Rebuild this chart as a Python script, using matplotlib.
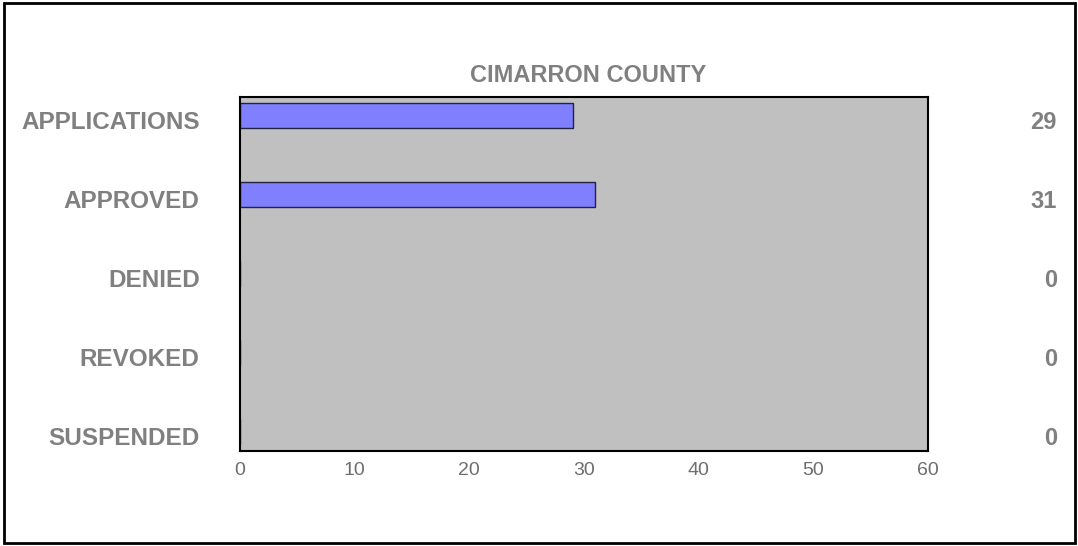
import matplotlib
matplotlib.use("Agg")
import matplotlib.pyplot as plt
import matplotlib.patches as patches
import matplotlib.transforms as transforms

# data
categories = ["APPLICATIONS", "APPROVED", "DENIED", "REVOKED", "SUSPENDED"]
counts = [29, 31, 0, 0, 0]
x_ticks = [0, 10, 20, 30, 40, 50, 60]
title = "CIMARRON COUNTY"

plt.rcParams['font.family'] = ['Liberation Sans', 'DejaVu Sans']
label_grey = '#808080'
tick_grey = '#6e6e6e'

fig = plt.figure(figsize=(10.78, 5.46), dpi=100)
ax = fig.add_axes([0.2226, 0.1749, 0.6383, 0.6474])
ax.set_facecolor('#c0c0c0')

ypos = list(range(len(categories)))
ax.barh(ypos, counts, height=0.316, color='#8080ff', edgecolor='#222244', linewidth=1.0)

ax.set_xlim(0, 60)
ax.set_ylim(4.24, -0.234)
ax.set_xticks(x_ticks)
ax.set_xticklabels([str(t) for t in x_ticks], fontsize=14, color=tick_grey)
ax.set_yticks([y + 0.06 for y in ypos])
ax.set_yticklabels(categories, fontsize=17.5, fontweight='bold', color=label_grey)
ax.tick_params(axis='y', length=0, pad=29)
ax.tick_params(axis='x', length=0, pad=8)
for side in ax.spines.values():
    side.set_linewidth(1.5)
    side.set_color('black')

# value column on the right
trans = transforms.blended_transform_factory(fig.transFigure, ax.transData)
for y, v in zip(ypos, counts):
    ax.text(0.9805, y + 0.09, str(v), transform=trans, ha='right', va='center',
            fontsize=17, fontweight='bold', color=label_grey)

fig.text(0.5455, 0.862, title, ha='center', va='center', fontsize=17,
         fontweight='bold', color=label_grey)

# outer frame
fig.patches.append(patches.Rectangle((4 / 1078, 3 / 546), 1071 / 1078, 540 / 546,
                                     transform=fig.transFigure, fill=False,
                                     edgecolor='black', linewidth=2))

fig.savefig("out.png", dpi=100)
